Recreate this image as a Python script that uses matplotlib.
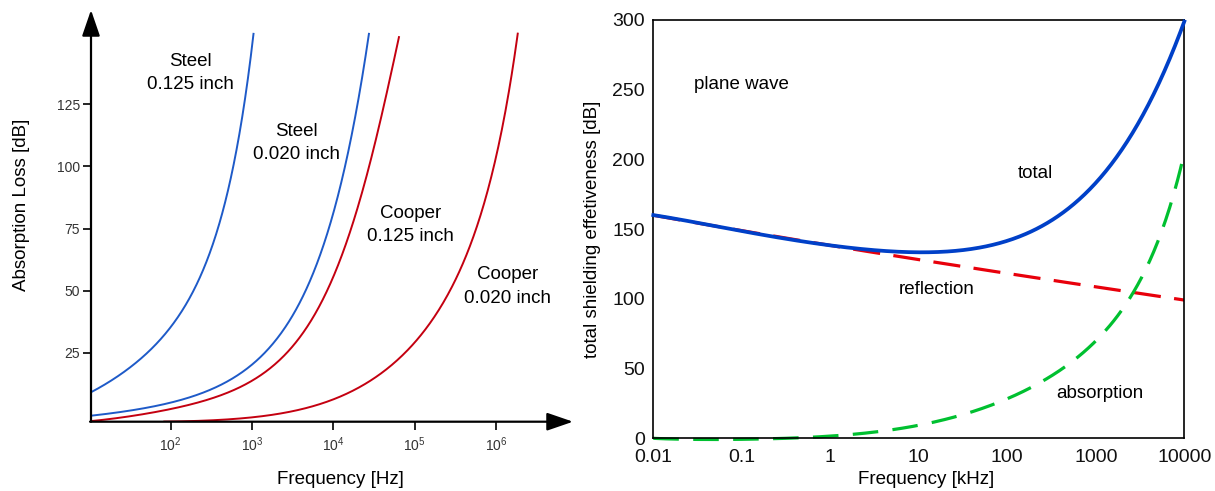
import numpy as np
import matplotlib
matplotlib.use('Agg')
import matplotlib.pyplot as plt

plt.rcParams['font.family'] = ['Liberation Sans Narrow', 'Liberation Sans', 'DejaVu Sans']

# left panel: absorption loss vs frequency [Hz] (log10 of f, dB)
steel_125_logf = [1.02, 1.42, 1.66, 1.95, 2.20, 2.44, 2.69, 2.85, 2.95, 3.02]
steel_125_db = [9.3, 15.3, 22.1, 34.1, 47.5, 63.6, 86.5, 110.6, 133.4, 154.2]

steel_020_logf = [1.02, 1.54, 1.95, 2.36, 2.77, 2.85, 3.10, 3.34, 3.55, 3.75, 3.92, 4.04,
                  4.14, 4.29, 4.39, 4.44]
steel_020_db = [-0.4, 1.9, 4.6, 8.7, 14.5, 16.7, 22.1, 31.4, 43.5, 58.3, 73.1, 86.5,
                99.0, 122.0, 140.1, 154.2]

cooper_125_logf = [1.02, 1.54, 1.95, 2.36, 2.77, 2.85, 3.10, 3.39, 3.55, 3.75, 3.96, 4.17,
                   4.33, 4.43, 4.57, 4.74, 4.81]
cooper_125_db = [-2.6, -0.2, 2.3, 5.6, 9.4, 10.7, 14.7, 22.1, 30.1, 40.9, 54.3, 71.7,
                 86.5, 97.0, 116.0, 138.8, 152.9]

cooper_020_logf = [1.91, 2.98, 3.34, 3.75, 3.96, 4.21, 4.45, 4.66, 4.86, 5.07, 5.27, 5.48,
                   5.66, 5.93, 6.09, 6.17, 6.27]
cooper_020_db = [-2.8, -0.8, 1.2, 3.8, 5.3, 8.0, 11.3, 16.7, 24.8, 34.2, 44.2, 54.3,
                 66.4, 89.2, 113.3, 132.0, 154.2]

left_yticks = [25, 50, 75, 100, 125]
left_xticks = [2, 3, 4, 5, 6]

# right panel: plane wave shielding, frequency in kHz (log10), dB
total_logf = [-2.0, -1.32, -0.57, 0.19, 0.79, 1.11, 1.35, 1.73, 2.11, 2.48, 2.86, 3.16,
              3.39, 3.52, 3.67, 4.0]
total_db = [160.3, 151.8, 144.2, 137.4, 133.8, 133.3, 133.8, 136.3, 143.5, 156.8, 174.5,
            197.2, 216.3, 228.3, 248.0, 300.0]

refl_logf = [-2.0, -1.32, -0.57, 0.19, 0.37, 0.79, 1.35, 1.49, 2.24, 2.48, 2.99, 4.0]
refl_db = [160.3, 151.8, 144.2, 137.0, 134.5, 130.3, 124.6, 123.1, 115.9, 113.5, 108.7, 99.2]

absorb_logf = [-2.0, -1.0, 0.0, 0.47, 0.79, 1.35, 1.73, 2.11, 2.48, 2.78, 3.05, 3.31,
               3.54, 3.76, 3.95, 4.0]
absorb_db = [0.0, -0.6, 0.7, 4.3, 7.0, 15.5, 22.7, 31.1, 44.2, 56.0, 70.5, 92.0,
             120.7, 156.5, 192.4, 204.4]

right_xticks = [0.01, 0.1, 1, 10, 100, 1000, 10000]
right_yticks = [0, 50, 100, 150, 200, 250, 300]

W, H = 1215, 491
fig = plt.figure(figsize=(W / 100, H / 100), dpi=100)


def smooth(lx, ly, deg=5, offset=None, n=400):
    # least-squares polynomial in log f through the read points (irons out reading jitter);
    # with an offset the fit is done on log(dB + offset), which suits the exponential rise
    lx = np.asarray(lx, float)
    ly = np.asarray(ly, float)
    xs = np.linspace(lx[0], lx[-1], n)
    if offset is None:
        return 10 ** xs, np.polyval(np.polyfit(lx, ly, deg), xs)
    w = np.sqrt(ly + offset)
    w[0] *= 2.0
    w[-1] *= 4.0
    w[-2] *= 1.5
    p = np.polyfit(lx, np.log(ly + offset), deg, w=w)
    return 10 ** xs, np.exp(np.polyval(p, xs)) - offset


# ---- left panel ----
ax1 = fig.add_axes([91 / W, 1 - 421.7 / H, (573 - 91) / W, (421.7 - 10) / H])
ax1.set_xscale('log')
ax1.set_xlim(10 ** 1.02, 10 ** 6.948)
ax1.set_ylim(-2.8, 163.0)
for s in ax1.spines.values():
    s.set_visible(False)

blue_l = '#1e5ac8'
red_l = '#c40010'
for lx, ly, c, dg in [(steel_125_logf, steel_125_db, blue_l, 3),
                      (steel_020_logf, steel_020_db, blue_l, 4),
                      (cooper_125_logf, cooper_125_db, red_l, 4),
                      (cooper_020_logf, cooper_020_db, red_l, 4)]:
    x, y = smooth(lx, ly, dg, offset=4.0)
    ax1.plot(x, y, color=c, lw=1.4, solid_capstyle='butt')

arrow = dict(arrowstyle='-|>,head_length=1.6,head_width=0.55', lw=1.6,
             color='black', shrinkA=0, shrinkB=0)
ax1.annotate('', xy=(0, 1), xytext=(0, 0), xycoords='axes fraction', arrowprops=arrow)
ax1.annotate('', xy=(1, 0), xytext=(-0.002, 0), xycoords='axes fraction', arrowprops=arrow)

ax1.set_yticks(left_yticks)
ax1.set_yticklabels([str(v) for v in left_yticks])
ax1.set_xticks([10 ** e for e in left_xticks])
ax1.set_xticklabels([r'$\mathregular{10^{%d}}$' % e for e in left_xticks])
ax1.minorticks_off()
ax1.tick_params(axis='both', direction='out', length=6, width=1.2, colors='black',
                labelcolor='#333333', labelsize=10)
ax1.tick_params(axis='x', pad=4)
ax1.tick_params(axis='y', pad=2)

lab = dict(ha='center', va='center', fontsize=13.5, linespacing=1.5)
ax1.text(10 ** 2.24, 137.6, 'Steel\n0.125 inch', **lab)
ax1.text(10 ** 3.55, 109.4, 'Steel\n0.020 inch', **lab)
ax1.text(10 ** 4.95, 76.4, 'Cooper\n0.125 inch', **lab)
ax1.text(10 ** 6.145, 51.7, 'Cooper\n0.020 inch', **lab)

fig.text(22 / W, 1 - 205 / H, 'Absorption Loss [dB]', rotation=90, ha='center',
         va='center', fontsize=13.5)
fig.text(340 / W, 1 - 480 / H, 'Frequency [Hz]', ha='center', va='center', fontsize=13.5)

# ---- right panel ----
ax2 = fig.add_axes([653.3 / W, 1 - 438.3 / H, 531 / W, 418.3 / H])
ax2.set_xscale('log')
ax2.set_xlim(0.01, 10000)
ax2.set_ylim(0, 300)
for s in ax2.spines.values():
    s.set_linewidth(1.2)

x, y = smooth(refl_logf, refl_db, 3)
ax2.plot(x, y, color='#e8000b', lw=2.3, dashes=(8.5, 4.2), zorder=2)
x, y = smooth(absorb_logf, absorb_db, 4, offset=3.0)
ax2.plot(x, y, color='#00c030', lw=2.3, dashes=(8.0, 4.5), zorder=2, clip_on=False)
x, y = smooth(total_logf, total_db, 5)
ax2.plot(x, y, color='#0040c8', lw=2.7, zorder=3, clip_on=False)

ax2.set_xticks(right_xticks)
ax2.set_xticklabels(['0.01', '0.1', '1', '10', '100', '1000', '10000'])
ax2.set_yticks(right_yticks)
ax2.minorticks_off()
ax2.tick_params(axis='both', length=0, labelsize=14, labelcolor='#111111')
ax2.tick_params(axis='x', pad=8)
ax2.tick_params(axis='y', pad=6)

txt = dict(ha='center', va='center', fontsize=13.5)
ax2.text(10 ** -1.0, 254, 'plane wave', **txt)
ax2.text(10 ** 2.32, 190, 'total', **txt)
ax2.text(10 ** 1.2, 107, 'reflection', **txt)
ax2.text(10 ** 3.05, 32, 'absorption', **txt)

ax2.set_ylabel('total shielding effetiveness [dB]', fontsize=13.5, labelpad=8)
fig.text(926 / W, 1 - 480 / H, 'Frequency [kHz]', ha='center', va='center', fontsize=13.5)

fig.savefig('out.png', dpi=100)
